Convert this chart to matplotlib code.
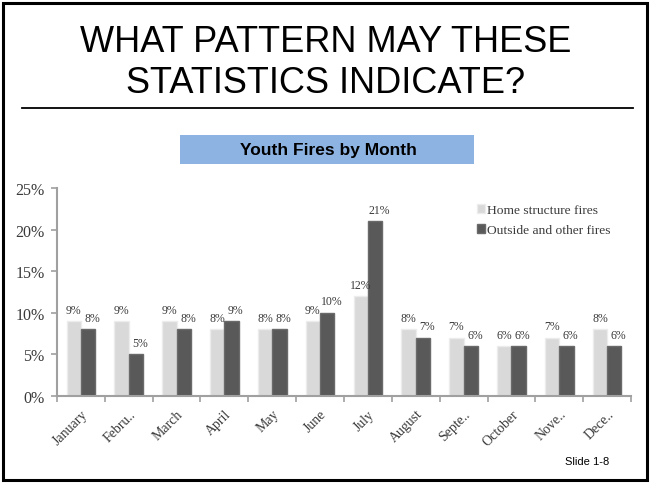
import matplotlib.pyplot as plt
from matplotlib.patches import Rectangle
from matplotlib.lines import Line2D
import numpy as np

months = ['January', 'Febru..', 'March', 'April', 'May', 'June', 'July',
          'August', 'Septe..', 'October', 'Nove..', 'Dece..']
home = [9, 9, 9, 8, 8, 9, 12, 8, 7, 6, 7, 8]
outside = [8, 5, 8, 9, 8, 10, 21, 7, 6, 6, 6, 6]
yticks = [0, 5, 10, 15, 20, 25]

serif = 'Liberation Serif'
gray_txt = '#3a3a3a'

fig = plt.figure(figsize=(6.51, 4.85), dpi=100)

# slide border
fig.patches.append(Rectangle((3 / 651, 4 / 485), 644 / 651, 477 / 485,
                             transform=fig.transFigure, fill=False,
                             edgecolor='black', linewidth=2.2))

fig.text(0.5, 1 - 52 / 485, 'WHAT PATTERN MAY THESE', ha='center', va='baseline',
         fontsize=26, family='Liberation Sans')
fig.text(0.5, 1 - 93 / 485, 'STATISTICS INDICATE?', ha='center', va='baseline',
         fontsize=26, family='Liberation Sans')
fig.lines.append(Line2D([22 / 651, 633 / 651], [1 - 108.5 / 485, 1 - 108.5 / 485],
                        transform=fig.transFigure, color='black', linewidth=1.3))

# chart title box
fig.patches.append(Rectangle((180 / 651, 1 - 165 / 485), 294 / 651, 29 / 485,
                             transform=fig.transFigure, facecolor='#8db3e2',
                             edgecolor='none'))
fig.text(328 / 651, 1 - 151 / 485, 'Youth Fires by Month', ha='center',
         va='center', fontsize=12.5, fontweight='bold', family='Liberation Sans')

ax = fig.add_axes([57 / 651, 88 / 485, 574 / 651, 208 / 485])
x = np.arange(len(months))
w = 0.3
ax.bar(x - w / 2, home, w, color='#d9d9d9', edgecolor='#ececec',
       linewidth=1, label='Home structure fires')
ax.bar(x + w / 2, outside, w, color='#595959', edgecolor='#6a6a6a',
       linewidth=1, label='Outside and other fires')

for xi, v in zip(x, home):
    ax.annotate(f'{v}%', (xi - w / 2, v), xytext=(0, 4), textcoords='offset points',
                ha='center', va='bottom', fontsize=8.5, family=serif, color=gray_txt)
for xi, v in zip(x, outside):
    ax.annotate(f'{v}%', (xi + w / 2, v), xytext=(3, 4), textcoords='offset points',
                ha='center', va='bottom', fontsize=8.5, family=serif, color=gray_txt)

ax.set_xlim(-0.5, len(months) - 0.5)
ax.set_ylim(0, 25)
ax.set_yticks(yticks)
ax.set_yticklabels([f'{t}%' for t in yticks], family=serif, fontsize=11.5,
                   color=gray_txt)
ax.set_xticks(x)
ax.set_xticklabels(months, rotation=45, ha='right', rotation_mode='anchor',
                   family=serif, fontsize=10, color=gray_txt)
ax.set_xticks(np.arange(-0.5, len(months)), minor=True)
ax.tick_params(axis='x', which='major', length=0, pad=8)
ax.tick_params(axis='x', which='minor', length=4, color='#a0a0a0', width=1.2)
ax.tick_params(axis='y', length=4, color='#a0a0a0', width=1.2, pad=5)
for s in ['top', 'right']:
    ax.spines[s].set_visible(False)
for s in ['left', 'bottom']:
    ax.spines[s].set_color('#a0a0a0')
    ax.spines[s].set_linewidth(1.5)

leg = ax.legend(loc='upper left', bbox_to_anchor=(0.71, 0.98), frameon=False,
                prop={'family': serif, 'size': 9.7}, handlelength=0.6,
                handleheight=0.6, handletextpad=0.2, labelspacing=0.6)
for t in leg.get_texts():
    t.set_color(gray_txt)

fig.text(565 / 651, 1 - 462 / 485, 'Slide 1-8', ha='left', va='center',
         fontsize=8, family='Liberation Sans')

fig.savefig('out.png', dpi=100)
